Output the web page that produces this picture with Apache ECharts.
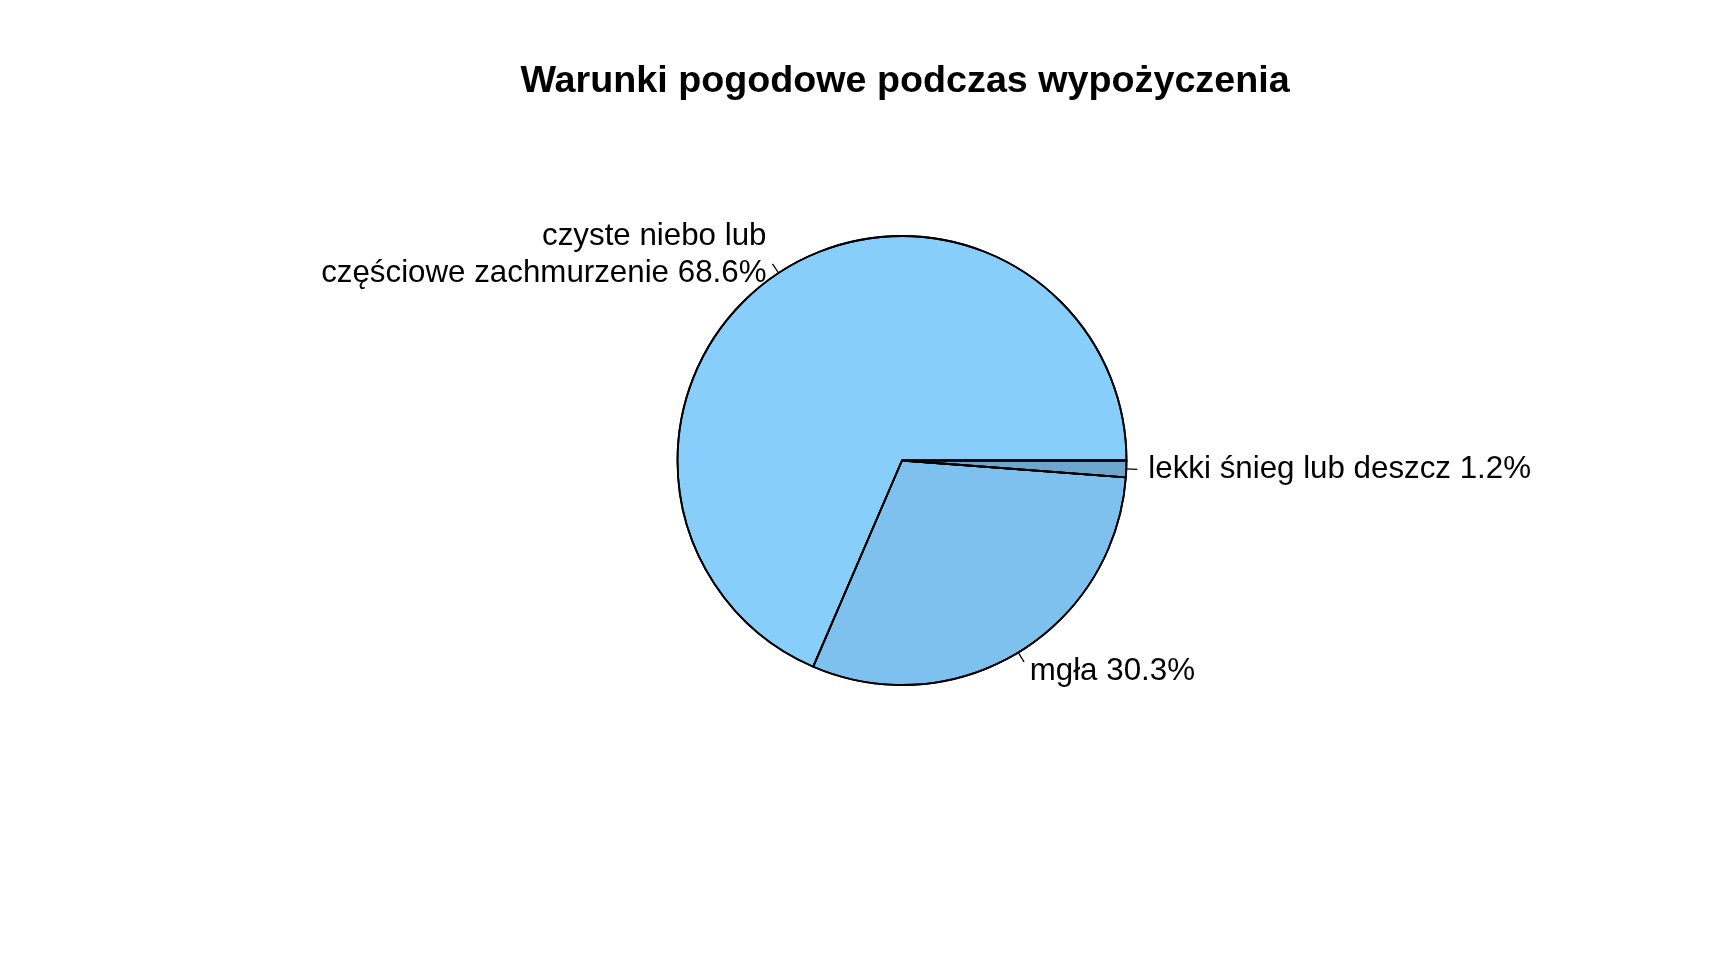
<!DOCTYPE html>
<html>
<head>
<meta charset="utf-8">
<script src="https://cdn.jsdelivr.net/npm/echarts@6/dist/echarts.min.js"></script>
<style>
html,body{margin:0;padding:0;background:#fff;}
#chart{width:1728px;height:960px;}
</style>
</head>
<body>
<div id="chart"></div>
<script>
const titleText = 'Warunki pogodowe podczas wypożyczenia';
const categories = ['czyste niebo lub\nczęściowe zachmurzenie', 'mgła', 'lekki śnieg lub deszcz'];
const values = [68.6, 30.3, 1.2];
const colors = ['#87CEFA', '#7EC0EE', '#6CA6CD'];

const FONT = '"Liberation Sans", Arial, sans-serif';
const data = categories.map((c, i) => ({ name: c, value: values[i], itemStyle: { color: colors[i] } }));
const outlineData = categories.map((c, i) => ({ name: c, value: values[i] }));
const center = [902, 460.5];
const R = 224.5;

const chart = echarts.init(document.getElementById('chart'), null, { renderer: 'canvas' });
chart.setOption({
  backgroundColor: '#ffffff',
  animation: false,
  title: {
    text: titleText,
    left: 900,
    top: 58,
    textAlign: 'center',
    textStyle: { fontFamily: FONT, fontSize: 37.7, fontWeight: 'bold', color: '#000' }
  },
  series: [
    {
      type: 'pie',
      center: center,
      radius: R,
      startAngle: 0,
      clockwise: false,
      avoidLabelOverlap: false,
      silent: true,
      emphasis: { disabled: true },
      data: data,
      itemStyle: { borderColor: '#000', borderWidth: 1.8 },
      label: { show: true, position: 'outside', formatter: ' ', fontSize: 2 },
      labelLine: { show: true, length: 11, length2: 0, smooth: false, lineStyle: { color: '#000', width: 1.3 } }
    },
    {
      type: 'pie',
      center: center,
      radius: R,
      startAngle: 0,
      clockwise: false,
      avoidLabelOverlap: false,
      silent: true,
      emphasis: { disabled: true },
      data: outlineData,
      itemStyle: { color: 'rgba(0,0,0,0)', borderColor: '#000', borderWidth: 1.8, opacity: 1 },
      label: {
        show: true, position: 'outside', formatter: '{b} {c}%',
        fontFamily: FONT, fontSize: 31.3, lineHeight: 37, color: '#000',
        distanceToLabelLine: 0
      },
      labelLine: { show: false, length: 22, length2: 0 }
    }
  ]
});
</script>
</body>
</html>
